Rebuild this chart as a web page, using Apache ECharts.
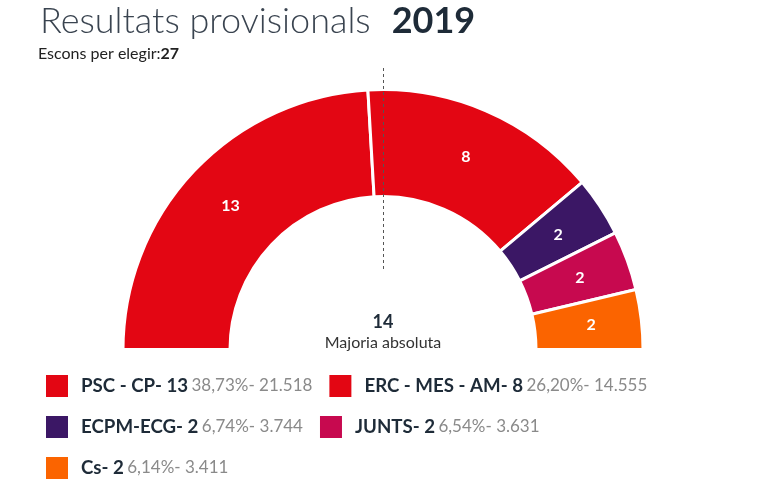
<!DOCTYPE html>
<html>
<head>
<meta charset="utf-8">
<script src="https://cdn.jsdelivr.net/npm/echarts@6/dist/echarts.min.js"></script>
<style>
html,body{margin:0;padding:0;background:#fff;}
#chart{width:774px;height:483px;}
</style>
</head>
<body>
<div id="chart"></div>
<script>
const parties = ['PSC - CP', 'ERC - MES - AM', 'ECPM-ECG', 'JUNTS', 'Cs'];
const seats = [13, 8, 2, 2, 2];
const percents = ['38,73%', '26,20%', '6,74%', '6,54%', '6,14%'];
const votes = ['21.518', '14.555', '3.744', '3.631', '3.411'];
const partyColors = ['#e30613', '#e30613', '#3b1765', '#c7094f', '#fb6400'];
const totalSeats = 27;
const majority = 14;
const titleText = 'Resultats provisionals';
const yearText = '2019';
const subtitleLabel = 'Escons per elegir:';

const FONT = 'Lato';
const DARK = '#1e2b38';

const legendNames = parties.map((p, i) => p + '- ' + seats[i]);
const pieData = parties.map((p, i) => ({
  name: legendNames[i],
  value: seats[i],
  itemStyle: { color: partyColors[i] }
}));
pieData.push({
  name: '__hidden',
  value: totalSeats,
  itemStyle: { color: 'rgba(0,0,0,0)', borderWidth: 0 },
  label: { show: false },
  emphasis: { disabled: true },
  silent: true
});

const chart = echarts.init(document.getElementById('chart'), null, { renderer: 'canvas' });
chart.setOption({
  animation: false,
  backgroundColor: '#fff',
  title: [{
    left: 40, top: 3, padding: 0,
    text: '{a|' + titleText + '}{b|' + yearText + '}',
    textStyle: {
      rich: {
        a: { fontFamily: FONT, fontWeight: 300, fontSize: 36, color: '#3a4450', padding: [0, 21, 0, 0] },
        b: { fontFamily: FONT, fontWeight: 'bold', fontSize: 36, color: DARK }
      }
    }
  }, {
    left: 38, top: 46, padding: 0,
    text: '{a|' + subtitleLabel + '}{b|' + totalSeats + '}',
    textStyle: {
      fontWeight: 'normal',
      rich: {
        a: { fontFamily: FONT, fontWeight: 'normal', fontSize: 16, color: '#222' },
        b: { fontFamily: FONT, fontWeight: 'bold', fontSize: 16, color: '#222' }
      }
    }
  }],
  legend: {
    data: legendNames,
    left: 44, top: 373, width: 640,
    padding: 0,
    orient: 'horizontal',
    itemWidth: 24, itemHeight: 24, itemGap: 15,
    icon: 'rect',
    selectedMode: false,
    formatter: function (name) {
      const i = legendNames.indexOf(name);
      return '{n|' + name + '} {g|' + percents[i] + '- ' + votes[i] + '}';
    },
    textStyle: {
      padding: [0, 0, 0, 7],
      rich: {
        n: { fontFamily: FONT, fontWeight: 'bold', fontSize: 18.7, color: DARK },
        g: { fontFamily: FONT, fontSize: 17, color: '#8a8a8a' }
      }
    }
  },
  series: [{
    type: 'pie',
    center: [383, 349.5],
    radius: [153, 260],
    startAngle: 180,
    clockwise: true,
    avoidLabelOverlap: false,
    itemStyle: { borderColor: '#fff', borderWidth: 3 },
    label: {
      show: true,
      position: 'inside',
      formatter: '{c}',
      color: '#fff',
      fontFamily: FONT,
      fontWeight: 'bold',
      fontSize: 16
    },
    labelLine: { show: false },
    emphasis: { disabled: true },
    data: pieData
  }],
  graphic: [{
    type: 'line',
    shape: { x1: 383.5, y1: 68, x2: 383.5, y2: 272 },
    style: { stroke: '#555', lineWidth: 1, lineDash: [3, 3] },
    z: 100
  }, {
    type: 'text',
    x: 383, y: 322,
    style: {
      text: String(majority),
      fontFamily: FONT, fontWeight: 'bold', fontSize: 18, fill: DARK,
      align: 'center', verticalAlign: 'middle'
    }
  }, {
    type: 'text',
    x: 383, y: 343,
    style: {
      text: 'Majoria absoluta',
      fontFamily: FONT, fontSize: 16, fill: '#333',
      align: 'center', verticalAlign: 'middle'
    }
  }]
});
</script>
</body>
</html>
